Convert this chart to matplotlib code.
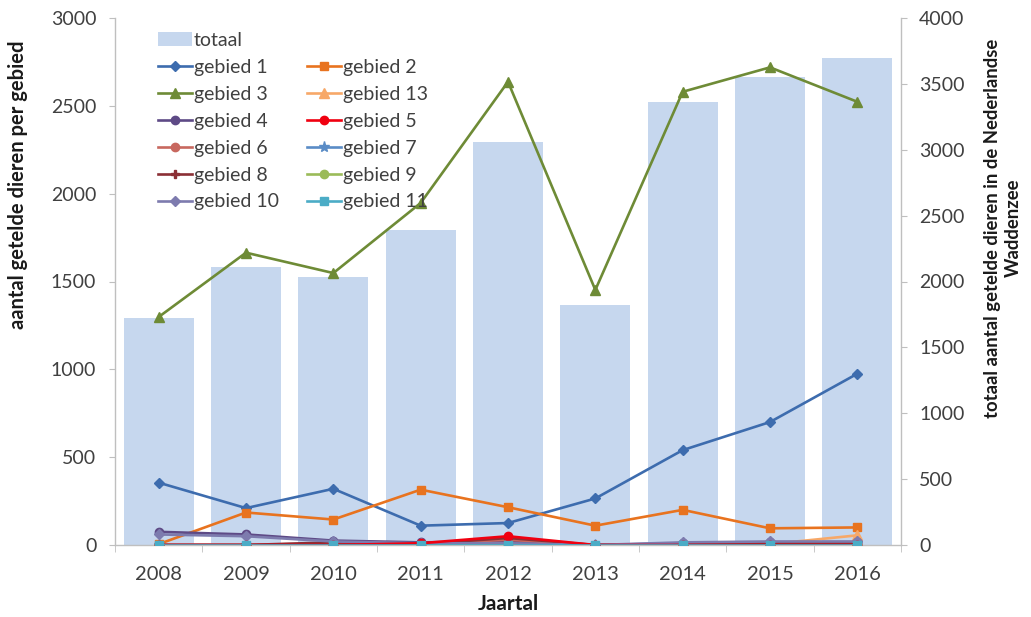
import matplotlib
matplotlib.use("Agg")
import matplotlib.pyplot as plt
from matplotlib.lines import Line2D
from matplotlib.patches import Patch
import numpy as np

plt.rcParams['font.family'] = ['Lato', 'DejaVu Sans']

years = ["2008", "2009", "2010", "2011", "2012", "2013", "2014", "2015", "2016"]
totaal = [1723, 2110, 2036, 2391, 3061, 1822, 3365, 3554, 3694]

gebied_1 = [355, 210, 320, 110, 125, 265, 540, 700, 975]
gebied_2 = [5, 185, 145, 315, 215, 110, 200, 95, 100]
gebied_3 = [1298, 1664, 1548, 1947, 2637, 1452, 2580, 2719, 2523]
gebied_13 = [0, 0, 0, 0, 0, 0, 0, 5, 55]
gebied_4 = [75, 60, 25, 15, 20, 0, 10, 15, 15]
gebied_5 = [0, 0, 0, 10, 50, 0, 0, 0, 0]
gebied_6 = [0, 0, 10, 5, 30, 0, 0, 5, 5]
gebied_7 = [0, 0, 0, 0, 0, 0, 5, 10, 10]
gebied_8 = [0, 0, 15, 5, 40, 0, 5, 10, 10]
gebied_9 = [0, 0, 0, 0, 0, 0, 0, 0, 0]
gebied_10 = [60, 50, 20, 10, 10, 0, 15, 20, 20]
gebied_11 = [0, 0, 0, 0, 0, 0, 0, 0, 0]

series = [
    ("gebied 1", gebied_1, "#3D6CAE", "D"),
    ("gebied 2", gebied_2, "#E8731F", "s"),
    ("gebied 3", gebied_3, "#6E8B36", "^"),
    ("gebied 13", gebied_13, "#F7A868", "^"),
    ("gebied 4", gebied_4, "#5E4A86", "o"),
    ("gebied 5", gebied_5, "#F00010", "o"),
    ("gebied 6", gebied_6, "#C8685F", "o"),
    ("gebied 7", gebied_7, "#5A8CC6", "*"),
    ("gebied 8", gebied_8, "#8B2F35", "P"),
    ("gebied 9", gebied_9, "#9BBB59", "o"),
    ("gebied 10", gebied_10, "#7D7BAE", "D"),
    ("gebied 11", gebied_11, "#4BACC6", "s"),
]

fig = plt.figure(figsize=(10.31, 6.17), dpi=100)
ax = fig.add_axes([115/1031, 1-545/617, (901-115)/1031, (545-18)/617])
ax2 = ax.twinx()

x = np.arange(len(years))
bar_color = "#C6D7EE"
ax2.bar(x, totaal, width=0.8, color=bar_color, zorder=1)
ax.set_zorder(ax2.get_zorder() + 1)
ax.patch.set_visible(False)

handles = {}
draw_order = ["gebied 1", "gebied 2", "gebied 3", "gebied 13", "gebied 4",
              "gebied 6", "gebied 7", "gebied 8", "gebied 9", "gebied 10",
              "gebied 5", "gebied 11"]
sd = {s[0]: s for s in series}
for name in draw_order:
    _, vals, col, mk = sd[name]
    ms = {"D": 5.5, "s": 5.5, "^": 6.5, "o": 6, "*": 8, "P": 6}[mk]
    h, = ax.plot(x, vals, color=col, lw=1.9, marker=mk, ms=ms,
                 markeredgecolor=col, markerfacecolor=col, zorder=3)
    handles[name] = h

ax.set_xlim(-0.5, len(years) - 0.5)
ax.set_ylim(0, 3000)
ax2.set_ylim(0, 4000)
ax.set_yticks(np.arange(0, 3001, 500))
ax2.set_yticks(np.arange(0, 4001, 500))
ax.set_xticks(x)
ax.set_xticklabels(years)
ax.set_xticks(np.arange(-0.5, len(years)), minor=True)

axis_col = "#BFBFBF"
for a in (ax, ax2):
    a.spines["top"].set_visible(False)
    for sp in ("left", "right", "bottom"):
        a.spines[sp].set_color(axis_col)
        a.spines[sp].set_linewidth(1.0)
ax.spines["right"].set_visible(False)
ax2.spines["left"].set_visible(False)
ax2.spines["bottom"].set_visible(False)

txt_col = "#404040"
ax.tick_params(axis="x", which="major", length=0, labelsize=14.5, pad=15, colors=txt_col)
ax.tick_params(axis="x", which="minor", length=5, color=axis_col)
ax.tick_params(axis="y", length=4, color=axis_col, labelsize=14, labelcolor=txt_col, pad=9.5)
ax2.tick_params(axis="y", length=4, color=axis_col, labelsize=14, labelcolor=txt_col, pad=9)

ax.set_xlabel("Jaartal", fontsize=15, fontweight="bold", labelpad=8, color="#1a1a1a")
ax.set_ylabel("aantal getelde dieren per gebied", fontsize=14.5, fontweight="bold",
              color="#1a1a1a")
ax.yaxis.set_label_coords(-87/786, (545-185)/527)
ax2.set_ylabel("totaal aantal getelde dieren in de Nederlandse\nWaddenzee", fontsize=13.3,
               fontweight="bold", rotation=90, linespacing=1.25, color="#1a1a1a")
ax2.yaxis.set_label_coords((984-115)/786, (545-228)/527)

blank = Line2D([], [], color="none")
tot_h = Patch(facecolor=bar_color, edgecolor="none")
leg_handles = [tot_h, handles["gebied 1"], handles["gebied 3"], handles["gebied 4"],
               handles["gebied 6"], handles["gebied 8"], handles["gebied 10"],
               blank, handles["gebied 2"], handles["gebied 13"], handles["gebied 5"],
               handles["gebied 7"], handles["gebied 9"], handles["gebied 11"]]
leg_labels = ["totaal", "gebied 1", "gebied 3", "gebied 4", "gebied 6", "gebied 8", "gebied 10",
              "", "gebied 2", "gebied 13", "gebied 5", "gebied 7", "gebied 9", "gebied 11"]
leg = ax.legend(leg_handles, leg_labels, ncol=2, loc="upper left",
                bbox_to_anchor=((158-115)/786, 1-14/527), frameon=False, fontsize=14,
                handlelength=1.75, handletextpad=0.1, columnspacing=1.45,
                labelspacing=0.51, borderaxespad=0, borderpad=0)
for t in leg.get_texts():
    t.set_color(txt_col)

fig.savefig("out.png", dpi=100)
